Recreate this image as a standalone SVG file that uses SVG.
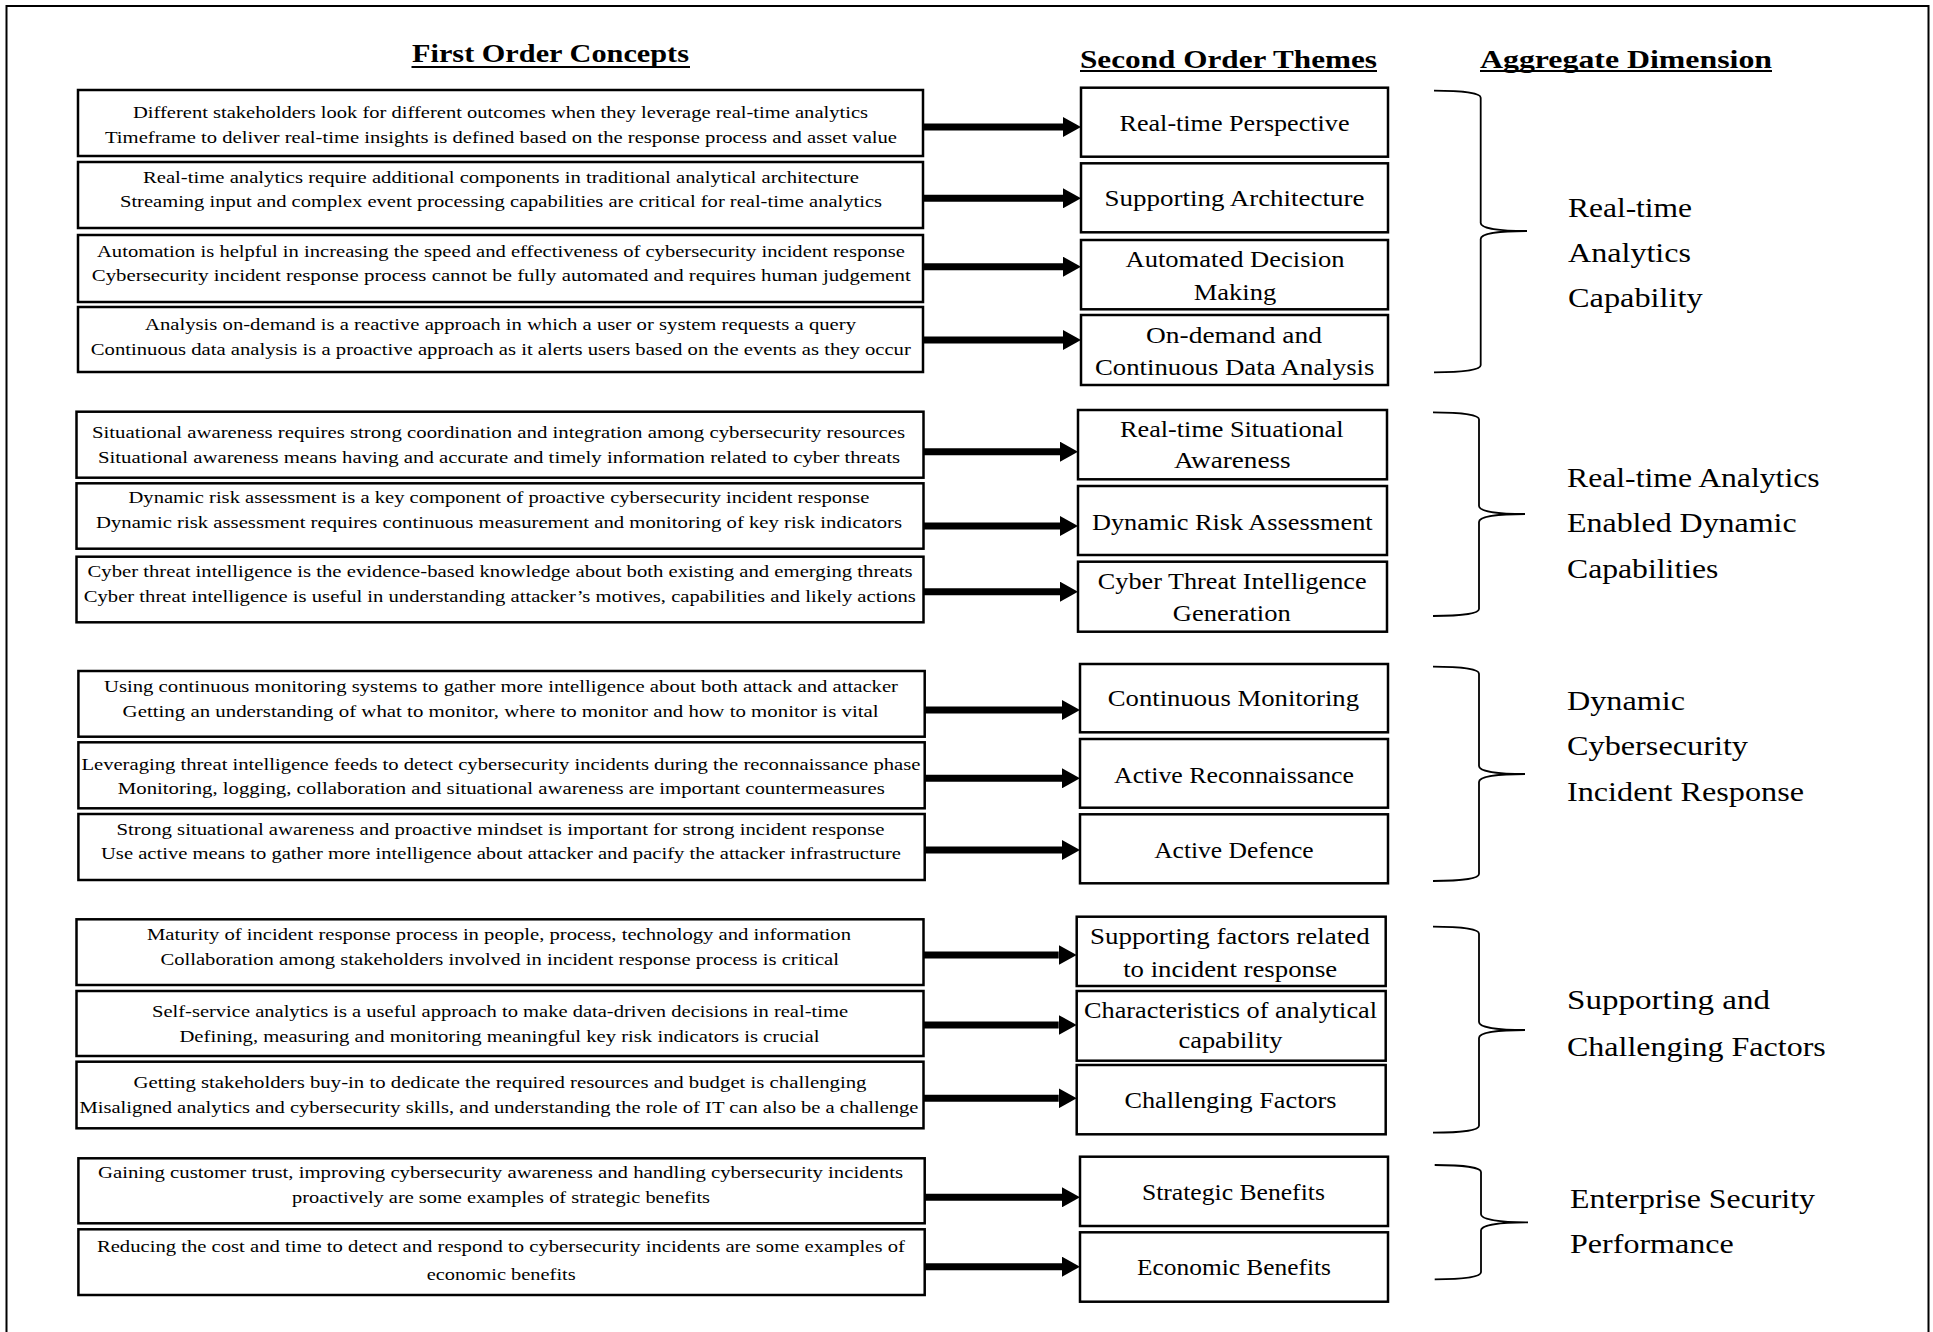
<svg xmlns="http://www.w3.org/2000/svg" width="1933" height="1332" viewBox="0 0 1933 1332">
  <style>
    .box { fill: #fff; stroke: #000; stroke-width: 2.5; }
    .ct { font-family: "Liberation Serif", "Times New Roman", serif; font-size: 17.5px; text-anchor: middle; fill: #000; }
    .tt { font-family: "Liberation Serif", "Times New Roman", serif; font-size: 23px; text-anchor: middle; fill: #000; }
    .dt { font-family: "Liberation Serif", "Times New Roman", serif; font-size: 27px; fill: #000; }
    .hd { font-family: "Liberation Serif", "Times New Roman", serif; font-size: 25px; font-weight: bold; text-anchor: middle; fill: #000; }
    .ul { stroke: #000; stroke-width: 2; }
    .brace { fill: none; stroke: #000; stroke-width: 1.8; }
    .arrow { stroke: #000; stroke-width: 7; fill: none; marker-end: url(#head); }
  </style>
  <defs>
    <marker id="head" markerUnits="userSpaceOnUse" viewBox="0 0 18 20" markerWidth="18" markerHeight="20" refX="0" refY="10" orient="auto">
      <path d="M0,0 L18,10 L0,20 Z" fill="#000"/>
    </marker>
  </defs>

  <rect width="1933" height="1332" fill="#fff"/>
  <!-- outer frame: open at the bottom -->
  <path d="M6.5,1332 V6 H1928.5 V1332" fill="none" stroke="#000" stroke-width="2"/>

  <!-- column headings -->
  <g id="headings">
    <text class="hd" x="550.5" y="62" textLength="277" lengthAdjust="spacingAndGlyphs">First Order Concepts</text>
    <line class="ul" x1="411.5" y1="67" x2="690" y2="67"/>
    <text class="hd" x="1228.5" y="68" textLength="297" lengthAdjust="spacingAndGlyphs">Second Order Themes</text>
    <line class="ul" x1="1080" y1="71" x2="1377" y2="71"/>
    <text class="hd" x="1626" y="68" textLength="292" lengthAdjust="spacingAndGlyphs">Aggregate Dimension</text>
    <line class="ul" x1="1480" y1="71" x2="1772" y2="71"/>
  </g>

  <!-- first order concepts -->
  <g id="concept-1">
    <rect class="box" x="78" y="90" width="845" height="66"/>
    <text class="ct" x="500.5" y="118.3" textLength="735" lengthAdjust="spacingAndGlyphs">Different stakeholders look for different outcomes when they leverage real-time analytics</text>
    <text class="ct" x="501" y="143.3" textLength="792" lengthAdjust="spacingAndGlyphs">Timeframe to deliver real-time insights is defined based on the response process and asset value</text>
  </g>
  <g id="concept-2">
    <rect class="box" x="78" y="162" width="845" height="66"/>
    <text class="ct" x="501" y="182.7" textLength="716" lengthAdjust="spacingAndGlyphs">Real-time analytics require additional components in traditional analytical architecture</text>
    <text class="ct" x="501" y="207" textLength="762" lengthAdjust="spacingAndGlyphs">Streaming input and complex event processing capabilities are critical for real-time analytics</text>
  </g>
  <g id="concept-3">
    <rect class="box" x="78" y="235" width="845" height="67"/>
    <text class="ct" x="501" y="256.7" textLength="808" lengthAdjust="spacingAndGlyphs">Automation is helpful in increasing the speed and effectiveness of cybersecurity incident response</text>
    <text class="ct" x="501.3" y="281" textLength="819" lengthAdjust="spacingAndGlyphs">Cybersecurity incident response process cannot be fully automated and requires human judgement</text>
  </g>
  <g id="concept-4">
    <rect class="box" x="78" y="307" width="845" height="65"/>
    <text class="ct" x="500.5" y="330" textLength="711" lengthAdjust="spacingAndGlyphs">Analysis on-demand is a reactive approach in which a user or system requests a query</text>
    <text class="ct" x="500.8" y="355" textLength="820" lengthAdjust="spacingAndGlyphs">Continuous data analysis is a proactive approach as it alerts users based on the events as they occur</text>
  </g>
  <g id="concept-5">
    <rect class="box" x="76.5" y="411.7" width="847" height="66"/>
    <text class="ct" x="498.5" y="438.3" textLength="813" lengthAdjust="spacingAndGlyphs">Situational awareness requires strong coordination and integration among cybersecurity resources</text>
    <text class="ct" x="499" y="463.3" textLength="802" lengthAdjust="spacingAndGlyphs">Situational awareness means having and accurate and timely information related to cyber threats</text>
  </g>
  <g id="concept-6">
    <rect class="box" x="76.5" y="483.3" width="847" height="65.4"/>
    <text class="ct" x="499" y="503.3" textLength="741" lengthAdjust="spacingAndGlyphs">Dynamic risk assessment is a key component of proactive cybersecurity incident response</text>
    <text class="ct" x="499" y="528.3" textLength="806" lengthAdjust="spacingAndGlyphs">Dynamic risk assessment requires continuous measurement and monitoring of key risk indicators</text>
  </g>
  <g id="concept-7">
    <rect class="box" x="76.5" y="556.7" width="847" height="65.6"/>
    <text class="ct" x="500" y="577.3" textLength="825" lengthAdjust="spacingAndGlyphs">Cyber threat intelligence is the evidence-based knowledge about both existing and emerging threats</text>
    <text class="ct" x="499.8" y="602.3" textLength="832" lengthAdjust="spacingAndGlyphs">Cyber threat intelligence is useful in understanding attacker’s motives, capabilities and likely actions</text>
  </g>
  <g id="concept-8">
    <rect class="box" x="78.4" y="671" width="846.3" height="65.7"/>
    <text class="ct" x="501" y="691.7" textLength="794" lengthAdjust="spacingAndGlyphs">Using continuous monitoring systems to gather more intelligence about both attack and attacker</text>
    <text class="ct" x="500.6" y="716.7" textLength="756" lengthAdjust="spacingAndGlyphs">Getting an understanding of what to monitor, where to monitor and how to monitor is vital</text>
  </g>
  <g id="concept-9">
    <rect class="box" x="78.4" y="742.3" width="846.3" height="66"/>
    <text class="ct" x="500.9" y="770" textLength="839" lengthAdjust="spacingAndGlyphs">Leveraging threat intelligence feeds to detect cybersecurity incidents during the reconnaissance phase</text>
    <text class="ct" x="501.3" y="794" textLength="767" lengthAdjust="spacingAndGlyphs">Monitoring, logging, collaboration and situational awareness are important countermeasures</text>
  </g>
  <g id="concept-10">
    <rect class="box" x="78.4" y="814" width="846.3" height="66"/>
    <text class="ct" x="500.5" y="835" textLength="768" lengthAdjust="spacingAndGlyphs">Strong situational awareness and proactive mindset is important for strong incident response</text>
    <text class="ct" x="501" y="859.3" textLength="800" lengthAdjust="spacingAndGlyphs">Use active means to gather more intelligence about attacker and pacify the attacker infrastructure</text>
  </g>
  <g id="concept-11">
    <rect class="box" x="76.5" y="919.3" width="847" height="65.7"/>
    <text class="ct" x="499" y="940" textLength="704" lengthAdjust="spacingAndGlyphs">Maturity of incident response process in people, process, technology and information</text>
    <text class="ct" x="499.7" y="965" textLength="678.5" lengthAdjust="spacingAndGlyphs">Collaboration among stakeholders involved in incident response process is critical</text>
  </g>
  <g id="concept-12">
    <rect class="box" x="76.5" y="991" width="847" height="65"/>
    <text class="ct" x="500" y="1016.7" textLength="696" lengthAdjust="spacingAndGlyphs">Self-service analytics is a useful approach to make data-driven decisions in real-time</text>
    <text class="ct" x="499.4" y="1041.7" textLength="640" lengthAdjust="spacingAndGlyphs">Defining, measuring and monitoring meaningful key risk indicators is crucial</text>
  </g>
  <g id="concept-13">
    <rect class="box" x="76.5" y="1061.7" width="847" height="66.6"/>
    <text class="ct" x="500" y="1088.3" textLength="733" lengthAdjust="spacingAndGlyphs">Getting stakeholders buy-in to dedicate the required resources and budget is challenging</text>
    <text class="ct" x="499" y="1113.3" textLength="839" lengthAdjust="spacingAndGlyphs">Misaligned analytics and cybersecurity skills, and understanding the role of IT can also be a challenge</text>
  </g>
  <g id="concept-14">
    <rect class="box" x="78.4" y="1158.3" width="846.3" height="65"/>
    <text class="ct" x="500.5" y="1178.3" textLength="805" lengthAdjust="spacingAndGlyphs">Gaining customer trust, improving cybersecurity awareness and handling cybersecurity incidents</text>
    <text class="ct" x="501" y="1203.3" textLength="418" lengthAdjust="spacingAndGlyphs">proactively are some examples of strategic benefits</text>
  </g>
  <g id="concept-15">
    <rect class="box" x="78.4" y="1229.3" width="846.3" height="65.7"/>
    <text class="ct" x="500.9" y="1251.7" textLength="808" lengthAdjust="spacingAndGlyphs">Reducing the cost and time to detect and respond to cybersecurity incidents are some examples of</text>
    <text class="ct" x="501.2" y="1280" textLength="149" lengthAdjust="spacingAndGlyphs">economic benefits</text>
  </g>

  <!-- second order themes -->
  <g id="theme-1">
    <rect class="box" x="1081" y="87.7" width="307" height="69"/>
    <text class="tt" x="1234.5" y="130.5" textLength="230" lengthAdjust="spacingAndGlyphs">Real-time Perspective</text>
  </g>
  <g id="theme-2">
    <rect class="box" x="1081" y="163.3" width="307" height="69"/>
    <text class="tt" x="1234.5" y="206" textLength="260" lengthAdjust="spacingAndGlyphs">Supporting Architecture</text>
  </g>
  <g id="theme-3">
    <rect class="box" x="1081" y="240" width="307" height="69.3"/>
    <text class="tt" x="1235" y="266.7" textLength="219" lengthAdjust="spacingAndGlyphs">Automated Decision</text>
    <text class="tt" x="1235" y="299.5" textLength="82.5" lengthAdjust="spacingAndGlyphs">Making</text>
  </g>
  <g id="theme-4">
    <rect class="box" x="1081" y="315" width="307" height="70"/>
    <text class="tt" x="1234" y="342.7" textLength="176" lengthAdjust="spacingAndGlyphs">On-demand and</text>
    <text class="tt" x="1234.7" y="375" textLength="279.5" lengthAdjust="spacingAndGlyphs">Continuous Data Analysis</text>
  </g>
  <g id="theme-5">
    <rect class="box" x="1078" y="410" width="309" height="69.3"/>
    <text class="tt" x="1231.8" y="436.7" textLength="223.5" lengthAdjust="spacingAndGlyphs">Real-time Situational</text>
    <text class="tt" x="1232.3" y="468.3" textLength="116.7" lengthAdjust="spacingAndGlyphs">Awareness</text>
  </g>
  <g id="theme-6">
    <rect class="box" x="1078" y="486" width="309" height="69"/>
    <text class="tt" x="1232.3" y="529.5" textLength="280.7" lengthAdjust="spacingAndGlyphs">Dynamic Risk Assessment</text>
  </g>
  <g id="theme-7">
    <rect class="box" x="1078" y="561.7" width="309" height="70"/>
    <text class="tt" x="1232.2" y="589.3" textLength="268.7" lengthAdjust="spacingAndGlyphs">Cyber Threat Intelligence</text>
    <text class="tt" x="1231.8" y="621" textLength="118" lengthAdjust="spacingAndGlyphs">Generation</text>
  </g>
  <g id="theme-8">
    <rect class="box" x="1080" y="664" width="308" height="68.3"/>
    <text class="tt" x="1233.4" y="706" textLength="251.3" lengthAdjust="spacingAndGlyphs">Continuous Monitoring</text>
  </g>
  <g id="theme-9">
    <rect class="box" x="1080" y="739" width="308" height="68.7"/>
    <text class="tt" x="1234" y="782.7" textLength="240" lengthAdjust="spacingAndGlyphs">Active Reconnaissance</text>
  </g>
  <g id="theme-10">
    <rect class="box" x="1080" y="814.3" width="308" height="69"/>
    <text class="tt" x="1233.9" y="857.7" textLength="159.5" lengthAdjust="spacingAndGlyphs">Active Defence</text>
  </g>
  <g id="theme-11">
    <rect class="box" x="1076.7" y="916.7" width="309" height="69.3"/>
    <text class="tt" x="1229.8" y="944" textLength="279.6" lengthAdjust="spacingAndGlyphs">Supporting factors related</text>
    <text class="tt" x="1230.2" y="976.7" textLength="214" lengthAdjust="spacingAndGlyphs">to incident response</text>
  </g>
  <g id="theme-12">
    <rect class="box" x="1076.7" y="991" width="309" height="69.7"/>
    <text class="tt" x="1230.5" y="1017.7" textLength="293" lengthAdjust="spacingAndGlyphs">Characteristics of analytical</text>
    <text class="tt" x="1230.5" y="1048.3" textLength="104" lengthAdjust="spacingAndGlyphs">capability</text>
  </g>
  <g id="theme-13">
    <rect class="box" x="1076.7" y="1065" width="309" height="69.3"/>
    <text class="tt" x="1230.5" y="1108.3" textLength="212" lengthAdjust="spacingAndGlyphs">Challenging Factors</text>
  </g>
  <g id="theme-14">
    <rect class="box" x="1080" y="1156.7" width="308" height="69.3"/>
    <text class="tt" x="1233.4" y="1200" textLength="183" lengthAdjust="spacingAndGlyphs">Strategic Benefits</text>
  </g>
  <g id="theme-15">
    <rect class="box" x="1080" y="1232.3" width="308" height="69.4"/>
    <text class="tt" x="1234" y="1275" textLength="194" lengthAdjust="spacingAndGlyphs">Economic Benefits</text>
  </g>

  <!-- aggregate dimensions with their braces -->
  <g id="dimension-1">
    <path class="brace" d="M1434,90.7 C1462,90.7 1480.7,93 1480.7,97.7 V223 C1480.7,228.5 1500,231 1527,231 C1500,231 1480.7,233.5 1480.7,239 V365.3 C1480.7,370 1462,372.3 1434,372.3"/>
    <text class="dt" x="1568" y="216.5" textLength="124" lengthAdjust="spacingAndGlyphs">Real-time</text>
    <text class="dt" x="1568" y="262" textLength="123" lengthAdjust="spacingAndGlyphs">Analytics</text>
    <text class="dt" x="1568" y="307" textLength="134.7" lengthAdjust="spacingAndGlyphs">Capability</text>
  </g>
  <g id="dimension-2">
    <path class="brace" d="M1433,412.3 C1461,412.3 1479,414.6 1479,419.3 V506 C1479,511.5 1498,514 1525,514 C1498,514 1479,516.5 1479,522 V609 C1479,613.7 1461,616 1433,616"/>
    <text class="dt" x="1567" y="486.7" textLength="252.6" lengthAdjust="spacingAndGlyphs">Real-time Analytics</text>
    <text class="dt" x="1567" y="531.7" textLength="229.6" lengthAdjust="spacingAndGlyphs">Enabled Dynamic</text>
    <text class="dt" x="1567" y="577.7" textLength="151.4" lengthAdjust="spacingAndGlyphs">Capabilities</text>
  </g>
  <g id="dimension-3">
    <path class="brace" d="M1433,666.7 C1461,666.7 1479,669 1479,673.7 V766 C1479,771.5 1498,774 1525,774 C1498,774 1479,776.5 1479,782 V874 C1479,878.7 1461,881 1433,881"/>
    <text class="dt" x="1567" y="710" textLength="118" lengthAdjust="spacingAndGlyphs">Dynamic</text>
    <text class="dt" x="1567" y="755" textLength="181" lengthAdjust="spacingAndGlyphs">Cybersecurity</text>
    <text class="dt" x="1567" y="800.7" textLength="237" lengthAdjust="spacingAndGlyphs">Incident Response</text>
  </g>
  <g id="dimension-4">
    <path class="brace" d="M1433,926.7 C1461,926.7 1479,929 1479,933.7 V1022 C1479,1027.5 1498,1030 1525,1030 C1498,1030 1479,1032.5 1479,1038 V1125.7 C1479,1130.4 1461,1132.7 1433,1132.7"/>
    <text class="dt" x="1567" y="1008.8" textLength="203" lengthAdjust="spacingAndGlyphs">Supporting and</text>
    <text class="dt" x="1567" y="1055.5" textLength="258.8" lengthAdjust="spacingAndGlyphs">Challenging Factors</text>
  </g>
  <g id="dimension-5">
    <path class="brace" d="M1434.7,1165 C1463,1165 1481,1167.3 1481,1172 V1214.3 C1481,1219.8 1500,1222.3 1528,1222.3 C1500,1222.3 1481,1224.8 1481,1230.3 V1272.3 C1481,1277 1463,1279.3 1434.7,1279.3"/>
    <text class="dt" x="1570" y="1208.3" textLength="245" lengthAdjust="spacingAndGlyphs">Enterprise Security</text>
    <text class="dt" x="1570" y="1253.3" textLength="163.8" lengthAdjust="spacingAndGlyphs">Performance</text>
  </g>

  <!-- connectors: concept to theme -->
  <g id="connectors">
    <line class="arrow" x1="923" y1="127" x2="1063" y2="127"/>
    <line class="arrow" x1="923" y1="198.3" x2="1063" y2="198.3"/>
    <line class="arrow" x1="923" y1="266.7" x2="1063" y2="266.7"/>
    <line class="arrow" x1="923" y1="340" x2="1063" y2="340"/>
    <line class="arrow" x1="923.5" y1="451.7" x2="1060" y2="451.7"/>
    <line class="arrow" x1="923.5" y1="526" x2="1060" y2="526"/>
    <line class="arrow" x1="923.5" y1="591.7" x2="1060" y2="591.7"/>
    <line class="arrow" x1="924.7" y1="710" x2="1062" y2="710"/>
    <line class="arrow" x1="924.7" y1="778.3" x2="1062" y2="778.3"/>
    <line class="arrow" x1="924.7" y1="850" x2="1062" y2="850"/>
    <line class="arrow" x1="923.5" y1="955" x2="1058.7" y2="955"/>
    <line class="arrow" x1="923.5" y1="1025" x2="1058.7" y2="1025"/>
    <line class="arrow" x1="923.5" y1="1098.3" x2="1058.7" y2="1098.3"/>
    <line class="arrow" x1="924.7" y1="1197.3" x2="1062" y2="1197.3"/>
    <line class="arrow" x1="924.7" y1="1266.7" x2="1062" y2="1266.7"/>
  </g>
</svg>
